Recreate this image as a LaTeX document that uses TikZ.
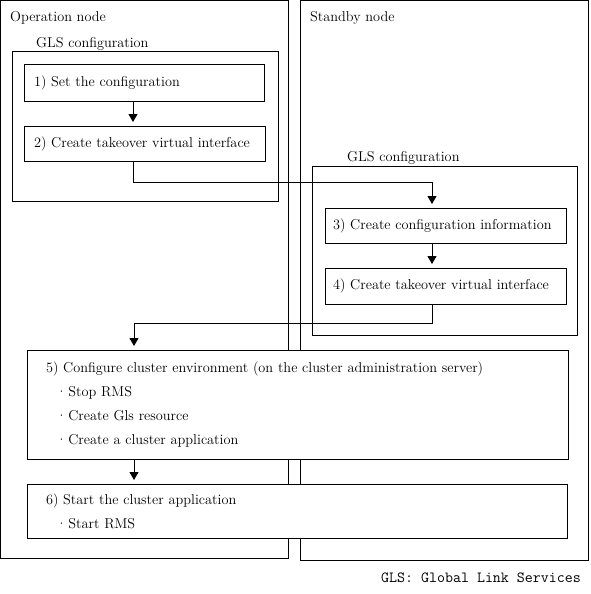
\documentclass[tikz,border=0pt]{standalone}
\usepackage{tikz}
\usetikzlibrary{arrows.meta}

\begin{document}
\begin{tikzpicture}[x=1pt,y=-1pt,
  every node/.style={font=\fontsize{14.3}{23.7}\selectfont},
  frame/.style={draw,line width=1pt,anchor=north west,inner sep=0pt,outer sep=0pt},
  stepbox/.style={frame,fill=white,inner xsep=10pt,align=left},
  lbl/.style={anchor=base west,inner sep=0pt},
  flow/.style={-{Triangle[length=8pt,width=9pt]},line width=1pt,shorten >=4pt}]
  \useasboundingbox (0,0) rectangle (590,594);
  % nodes
  \node[frame,minimum width=288,minimum height=558] (opnode) at (0.5,0.5) {};
  \node[frame,minimum width=288,minimum height=560] (sbnode) at (300.5,0.5) {};
  \node[lbl] (optitle) at (10,22) {Operation node};
  \node[lbl] (sbtitle) at (310,22) {Standby node};
  % GLS configuration
  \node[frame,minimum width=266,minimum height=149] (opgls) at (12,52) {};
  \node[lbl] (opglstitle) at (36,48) {GLS configuration};
  \node[frame,minimum width=265,minimum height=169] (sbgls) at (312,166) {};
  \node[lbl] (sbglstitle) at (347,161) {GLS configuration};
  % steps
  \node[stepbox,minimum height=36,text width=220] (s1) at (24,65) {1) Set the configuration};
  \node[stepbox,minimum height=35,text width=221] (s2) at (24,126) {2) Create takeover virtual interface};
  \node[stepbox,inner xsep=8pt,minimum height=35,text width=225] (s3) at (325,208) {3) Create configuration information};
  \node[stepbox,inner xsep=8pt,minimum height=36,text width=225] (s4) at (325,268) {4) Create takeover virtual interface};
  \node[stepbox,inner xsep=19pt,minimum height=109,text width=503] (s5) at (27,350)
    {5) Configure cluster environment (on the cluster administration server)\\
     \hspace*{10pt}\textperiodcentered\hspace{1.5pt}Stop RMS\\
     \hspace*{10pt}\textperiodcentered\hspace{1.5pt}Create Gls resource\\
     \hspace*{10pt}\textperiodcentered\hspace{1.5pt}Create a cluster application};
  \node[stepbox,inner xsep=19pt,minimum height=54,text width=502] (s6) at (27,484)
    {6) Start the cluster application\\
     \hspace*{10pt}\textperiodcentered\hspace{1.5pt}Start RMS};
  \node[anchor=base east,inner sep=0pt,font=\ttfamily\fontsize{15.5}{15.5}\selectfont] (note) at (581,582) {GLS: Global Link Services};
  % connectors
  \coordinate (col) at (133,0);
  \coordinate (bend1) at (432,182);
  \coordinate (bend2) at (134,323);
  \draw[flow] (col |- s1.south) -- (col |- s2.north);
  \draw[flow] (col |- s2.south) |- (bend1) -- (bend1 |- s3.north);
  \draw[flow] (bend1 |- s3.south) -- (bend1 |- s4.north);
  \draw[flow] (bend1 |- s4.south) |- (bend2) -- (bend2 |- s5.north);
  \draw[flow] (bend2 |- s5.south) -- (bend2 |- s6.north);
\end{tikzpicture}
\end{document}
